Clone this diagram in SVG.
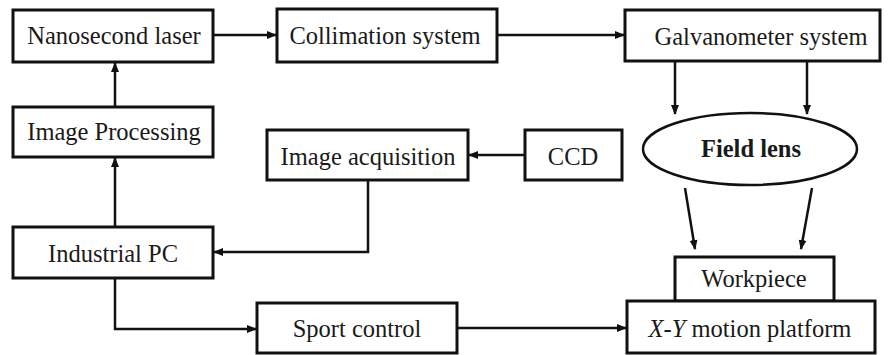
<svg xmlns="http://www.w3.org/2000/svg" width="888" height="355" viewBox="0 0 888 355">
<style>
.box{fill:#fff;stroke:#111;stroke-width:3}
.t{font-family:"Liberation Serif","Times New Roman",serif;font-size:24.5px;fill:#1a1a1a;text-anchor:middle}
.c{fill:none;stroke:#111;stroke-width:2.5}
</style>
<defs>
<marker id="ah" viewBox="0 0 10 10" refX="9" refY="5" markerWidth="4" markerHeight="4" orient="auto" markerUnits="strokeWidth">
<path d="M0,1 L10,5 L0,9 z" fill="#111"/>
</marker>
</defs>
<rect width="888" height="355" fill="#fff"/>
<g id="connectors">
<path class="c" d="M213,35 H276" marker-end="url(#ah)"/>
<path class="c" d="M497,35 H624" marker-end="url(#ah)"/>
<path class="c" d="M115,107 V63" marker-end="url(#ah)"/>
<path class="c" d="M115,227 V158" marker-end="url(#ah)"/>
<path class="c" d="M525,155 H469" marker-end="url(#ah)"/>
<path class="c" d="M368,180 V252 H214" marker-end="url(#ah)"/>
<path class="c" d="M115,278 V329 H256" marker-end="url(#ah)"/>
<path class="c" d="M457,328 H626" marker-end="url(#ah)"/>
<path class="c" d="M675,61 V114" marker-end="url(#ah)"/>
<path class="c" d="M807,61 V114" marker-end="url(#ah)"/>
<path class="c" d="M685,188 L695,249" marker-end="url(#ah)"/>
<path class="c" d="M812,188 L801,249" marker-end="url(#ah)"/>
</g>
<g id="nanosecond-laser"><rect class="box" x="13" y="10" width="200" height="52"/><text class="t" x="114" y="44">Nanosecond laser</text></g>
<g id="collimation-system"><rect class="box" x="277" y="9" width="220" height="53"/><text class="t" x="385" y="44">Collimation system</text></g>
<g id="galvanometer-system"><rect class="box" x="625" y="10" width="255" height="51"/><text class="t" x="761" y="45">Galvanometer system</text></g>
<g id="image-processing"><rect class="box" x="13" y="107" width="200" height="50"/><text class="t" x="114" y="140">Image Processing</text></g>
<g id="image-acquisition"><rect class="box" x="267" y="130" width="201" height="50"/><text class="t" x="368" y="165">Image acquisition</text></g>
<g id="ccd"><rect class="box" x="525" y="130" width="97" height="50"/><text class="t" x="573" y="165">CCD</text></g>
<g id="field-lens"><ellipse class="box" style="stroke-width:2.5" cx="750" cy="149" rx="107" ry="36"/><text class="t" x="751" y="157" font-weight="bold" font-size="23">Field lens</text></g>
<g id="industrial-pc"><rect class="box" x="13" y="227" width="200" height="51"/><text class="t" x="113" y="262">Industrial PC</text></g>
<g id="workpiece"><rect class="box" x="675" y="257" width="159" height="44"/><text class="t" x="754" y="287">Workpiece</text></g>
<g id="xy-motion-platform"><rect class="box" x="627" y="301" width="248" height="52"/><text class="t" x="750" y="337"><tspan font-style="italic">X</tspan>-<tspan font-style="italic">Y</tspan> motion platform</text></g>
<g id="sport-control"><rect class="box" x="257" y="303" width="200" height="50"/><text class="t" x="357" y="337">Sport control</text></g>
</svg>
